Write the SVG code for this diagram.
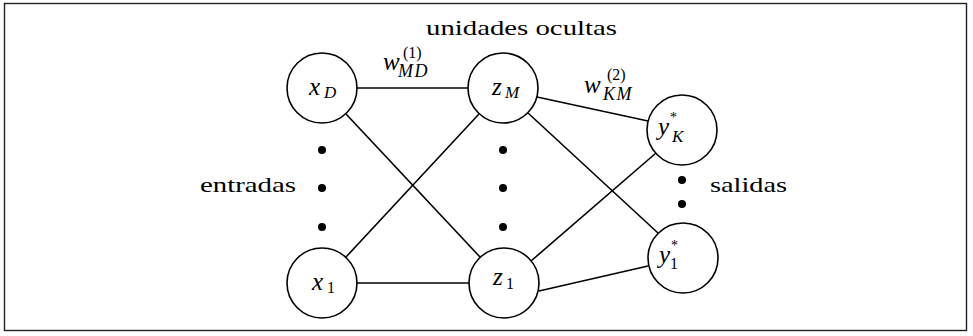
<svg xmlns="http://www.w3.org/2000/svg" width="973" height="336" viewBox="0 0 973 336">
<style>
.n{fill:#fff;stroke:#000;stroke-width:1.6}
.e{stroke:#000;stroke-width:1.6;fill:none}
.t{font-family:'Liberation Serif','DejaVu Serif',serif;font-size:22px;fill:#000}
.m{font-family:'Liberation Serif','DejaVu Serif',serif;font-style:italic;font-size:25px;fill:#000}
.s{font-family:'Liberation Serif','DejaVu Serif',serif;font-style:italic;font-size:17px;fill:#000}
.w{font-family:'Liberation Serif','DejaVu Serif',serif;font-style:italic;font-size:18px;letter-spacing:1.5px;fill:#000}
.r{font-family:'Liberation Serif','DejaVu Serif',serif;font-size:16px;fill:#000}
.a{font-family:'Liberation Serif','DejaVu Serif',serif;font-size:14px;fill:#000}
.d{fill:#000}
</style>
<rect x="4.5" y="3.5" width="962" height="327" fill="#fff" stroke="#222" stroke-width="1.4"/>
<g id="connectors">
<line class="e" x1="357" y1="88" x2="468" y2="88"/>
<line class="e" x1="346" y1="114" x2="480" y2="257"/>
<line class="e" x1="346" y1="257" x2="479" y2="114"/>
<line class="e" x1="357" y1="283" x2="469" y2="283"/>
<line class="e" x1="537" y1="97" x2="648" y2="121"/>
<line class="e" x1="528" y1="113" x2="658" y2="233"/>
<line class="e" x1="531" y1="261" x2="656" y2="153"/>
<line class="e" x1="539" y1="291" x2="648" y2="266"/>
</g>
<g id="xD"><circle class="n" cx="322" cy="88" r="35"/><text class="m" x="309" y="95">x</text><text class="s" x="324" y="98">D</text></g>
<g id="x1"><circle class="n" cx="322" cy="283" r="35"/><text class="m" x="312" y="290">x</text><text class="r" x="327" y="293">1</text></g>
<g id="zM"><circle class="n" cx="503" cy="88" r="35"/><text class="m" x="492" y="95">z</text><text class="s" x="505" y="98">M</text></g>
<g id="z1"><circle class="n" cx="504" cy="283" r="35"/><text class="m" x="493" y="285">z</text><text class="r" x="506" y="289">1</text></g>
<g id="yK"><circle class="n" cx="682" cy="130" r="35"/><text class="m" x="658" y="135">y</text><text class="a" x="670" y="122">*</text><text class="s" x="672" y="142">K</text></g>
<g id="y1"><circle class="n" cx="683" cy="258" r="35"/><text class="m" x="659" y="263">y</text><text class="a" x="671" y="250">*</text><text class="r" x="670" y="269">1</text></g>
<g id="labels">
<text class="t" x="426" y="35" textLength="191" lengthAdjust="spacingAndGlyphs">unidades ocultas</text>
<text class="t" x="200" y="192" textLength="96" lengthAdjust="spacingAndGlyphs">entradas</text>
<text class="t" x="710" y="192" textLength="77" lengthAdjust="spacingAndGlyphs">salidas</text>
<text class="m" x="383" y="70">w</text><text class="r" x="403" y="58">(1)</text><text class="w" x="398" y="77">MD</text>
<text class="m" x="584" y="93">w</text><text class="r" x="607" y="80">(2)</text><text class="w" x="603" y="100">KM</text>
</g>
<g id="dots">
<circle class="d" cx="322" cy="150" r="4"/><circle class="d" cx="322" cy="188" r="4"/><circle class="d" cx="322" cy="227" r="4"/>
<circle class="d" cx="503" cy="150" r="4"/><circle class="d" cx="503" cy="188" r="4"/><circle class="d" cx="503" cy="227" r="4"/>
<circle class="d" cx="682" cy="180" r="4"/><circle class="d" cx="682" cy="204" r="4"/>
</g>
</svg>
